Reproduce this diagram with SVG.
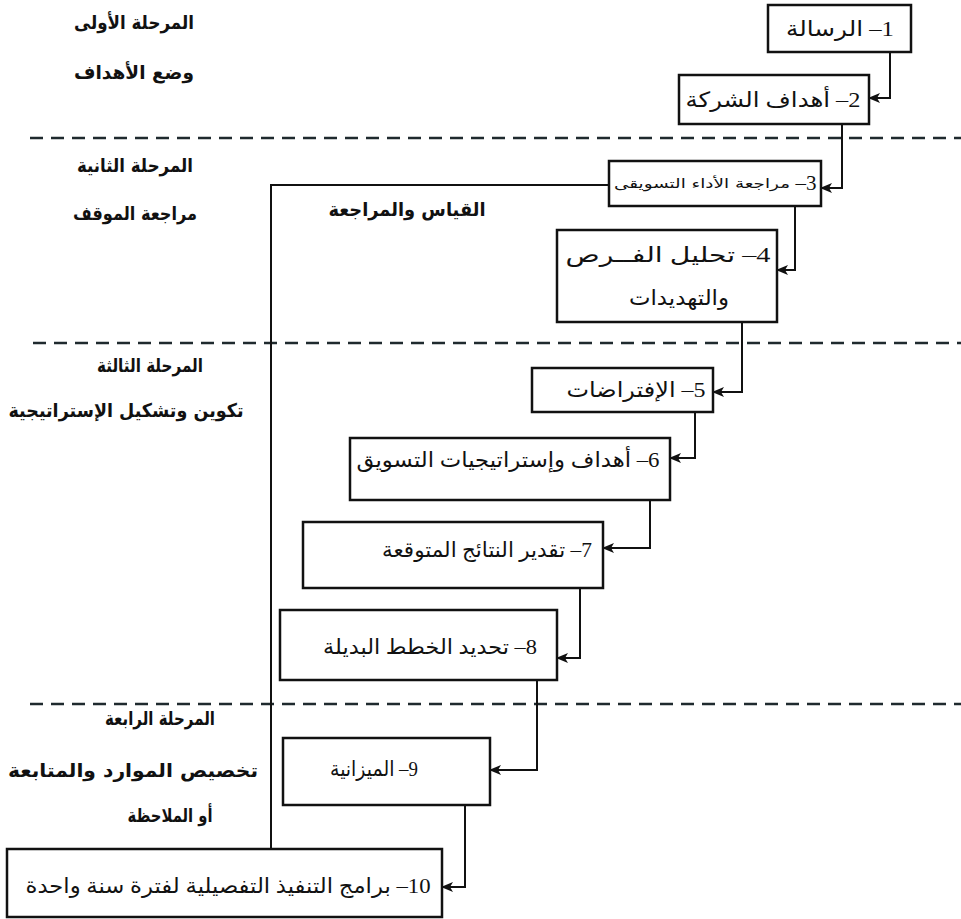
<svg xmlns="http://www.w3.org/2000/svg" width="961" height="919" viewBox="0 0 961 919">
  <style>
    .box { fill: #fff; stroke: #111; stroke-width: 2.5; }
    .conn { fill: none; stroke: #111; stroke-width: 2; }
    .sep { fill: none; stroke: #1f2a2e; stroke-width: 2.5; stroke-dasharray: 13 8; }
    .lbl { font-family: "DejaVu Sans", "Liberation Sans", sans-serif; font-weight: bold; font-size: 19px; fill: #111; text-anchor: middle; direction: rtl; unicode-bidi: embed; }
    .txt { font-family: "Liberation Serif", "DejaVu Sans", serif; font-size: 21px; fill: #111; text-anchor: middle; direction: rtl; unicode-bidi: embed; }
    .small { font-family: "DejaVu Sans", sans-serif; font-size: 13px; fill: #111; text-anchor: middle; direction: rtl; unicode-bidi: embed; }
  </style>
  <defs>
    <marker id="arrow" viewBox="0 0 12 10" refX="11" refY="5" markerWidth="12" markerHeight="10" markerUnits="userSpaceOnUse" orient="auto">
      <path d="M0,0 L12,5 L0,10 L3,5 z" fill="#111"/>
    </marker>
  </defs>

  <rect width="961" height="919" fill="#fff"/>

  <!-- phase separators -->
  <g id="separators">
    <line class="sep" x1="30" y1="138" x2="961" y2="138"/>
    <line class="sep" x1="33" y1="343" x2="961" y2="343"/>
    <line class="sep" x1="30" y1="704" x2="961" y2="704"/>
  </g>

  <!-- phase labels -->
  <g id="phase1">
    <text class="lbl" x="134" y="29" textLength="120" lengthAdjust="spacingAndGlyphs">المرحلة الأولى</text>
    <text class="lbl" x="134" y="79" textLength="120" lengthAdjust="spacingAndGlyphs">وضع الأهداف</text>
  </g>
  <g id="phase2">
    <text class="lbl" x="135" y="172" textLength="116" lengthAdjust="spacingAndGlyphs">المرحلة الثانية</text>
    <text class="lbl" x="135" y="220" textLength="124" lengthAdjust="spacingAndGlyphs">مراجعة الموقف</text>
  </g>
  <g id="phase3">
    <text class="lbl" x="150" y="372" textLength="106" lengthAdjust="spacingAndGlyphs">المرحلة الثالثة</text>
    <text class="lbl" x="126" y="417" textLength="235" lengthAdjust="spacingAndGlyphs">تكوين وتشكيل الإستراتيجية</text>
  </g>
  <g id="phase4">
    <text class="lbl" x="160" y="725" textLength="110" lengthAdjust="spacingAndGlyphs">المرحلة الرابعة</text>
    <text class="lbl" x="133" y="777" textLength="250" lengthAdjust="spacingAndGlyphs">تخصيص الموارد والمتابعة</text>
    <text class="lbl" x="170" y="822" textLength="85" lengthAdjust="spacingAndGlyphs">أو الملاحظة</text>
  </g>

  <!-- connectors -->
  <g id="connectors">
    <path class="conn" d="M890,52 V98 H869" marker-end="url(#arrow)"/>
    <path class="conn" d="M842,124 V188 H821" marker-end="url(#arrow)"/>
    <path class="conn" d="M795,206 V270 H777" marker-end="url(#arrow)"/>
    <path class="conn" d="M742,322 V392 H713" marker-end="url(#arrow)"/>
    <path class="conn" d="M695,412 V458 H670" marker-end="url(#arrow)"/>
    <path class="conn" d="M650,500 V548 H603" marker-end="url(#arrow)"/>
    <path class="conn" d="M580,588 V658 H557" marker-end="url(#arrow)"/>
    <path class="conn" d="M537,680 V770 H490" marker-end="url(#arrow)"/>
    <path class="conn" d="M465,805 V887 H442" marker-end="url(#arrow)"/>
    <!-- feedback loop: measurement and review -->
    <path class="conn" d="M609,185 H271 V849"/>
    <text class="lbl" x="407" y="216" textLength="157" lengthAdjust="spacingAndGlyphs">القياس والمراجعة</text>
  </g>

  <!-- steps -->
  <g id="step1">
    <rect class="box" x="768" y="5" width="143" height="47"/>
    <text class="txt" x="840" y="36" textLength="108" lengthAdjust="spacingAndGlyphs">1– الرسالة</text>
  </g>
  <g id="step2">
    <rect class="box" x="679" y="75" width="190" height="49"/>
    <text class="txt" x="773" y="107" textLength="175" lengthAdjust="spacingAndGlyphs">2– أهداف الشركة</text>
  </g>
  <g id="step3">
    <rect class="box" x="609" y="161" width="212" height="45"/>
    <text class="txt" x="806" y="190">3–</text>
    <text class="small" x="702" y="188" textLength="176" lengthAdjust="spacingAndGlyphs">مراجعة الأداء التسويقى</text>
  </g>
  <g id="step4">
    <rect class="box" x="557" y="230" width="220" height="92"/>
    <text class="txt" x="668" y="262" textLength="205" lengthAdjust="spacingAndGlyphs">4– تحليل الفــرص</text>
    <text class="txt" x="679" y="305" textLength="100" lengthAdjust="spacingAndGlyphs">والتهديدات</text>
  </g>
  <g id="step5">
    <rect class="box" x="532" y="368" width="181" height="44"/>
    <text class="txt" x="636" y="397" textLength="139" lengthAdjust="spacingAndGlyphs">5– الإفتراضات</text>
  </g>
  <g id="step6">
    <rect class="box" x="350" y="438" width="320" height="62"/>
    <text class="txt" x="508" y="467" textLength="303" lengthAdjust="spacingAndGlyphs">6– أهداف وإستراتيجيات التسويق</text>
  </g>
  <g id="step7">
    <rect class="box" x="303" y="522" width="300" height="66"/>
    <text class="txt" x="487" y="557" textLength="210" lengthAdjust="spacingAndGlyphs">7– تقدير النتائج المتوقعة</text>
  </g>
  <g id="step8">
    <rect class="box" x="280" y="610" width="277" height="70"/>
    <text class="txt" x="430" y="654" textLength="214" lengthAdjust="spacingAndGlyphs">8– تحديد الخطط البديلة</text>
  </g>
  <g id="step9">
    <rect class="box" x="283" y="738" width="207" height="67"/>
    <text class="txt" x="374" y="776" textLength="88" lengthAdjust="spacingAndGlyphs">9– الميزانية</text>
  </g>
  <g id="step10">
    <rect class="box" x="7" y="849" width="435" height="68"/>
    <text class="txt" x="228" y="893" textLength="405" lengthAdjust="spacingAndGlyphs">10– برامج التنفيذ التفصيلية لفترة سنة واحدة</text>
  </g>
</svg>
